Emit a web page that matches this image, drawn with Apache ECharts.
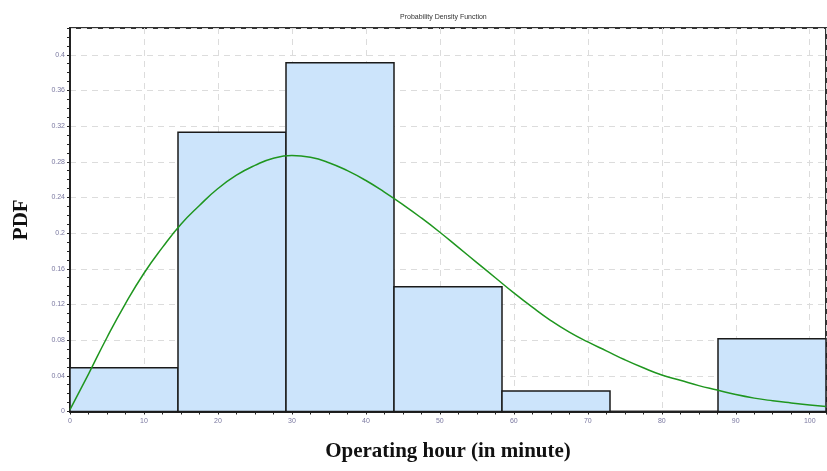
<!DOCTYPE html>
<html>
<head>
<meta charset="utf-8">
<script src="https://cdn.jsdelivr.net/npm/echarts@6/dist/echarts.min.js"></script>
<style>
  html, body { margin: 0; padding: 0; background: #fff; }
  #echarts { width: 827px; height: 471px; }
</style>
</head>
<body>
<div id="echarts"></div>
<script>
// histogram bins (operating minutes) and their heights
var binStart = [0, 14.6, 29.2, 43.8, 58.4, 73.0, 87.6];
var binEnd = [14.6, 29.2, 43.8, 58.4, 73.0, 87.6, 102.2];
var binHeight = [0.049, 0.313, 0.391, 0.140, 0.023, 0, 0.0815];

// fitted density curve
var curveX = [0, 2.5, 5, 7.5, 10, 12.5, 15, 17.5, 20, 22.5, 25, 27.5, 30, 32.5, 35, 37.5,
  40, 42.5, 45, 47.5, 50, 52.5, 55, 57.5, 60, 62.5, 65, 67.5, 70, 72.5, 75, 77.5,
  80, 82.5, 85, 87.5, 90, 92.5, 95, 97.5, 100, 102.2];
var curveY = [0.002, 0.042, 0.083, 0.121, 0.155, 0.184, 0.210, 0.231, 0.250, 0.265, 0.276, 0.284,
  0.287, 0.285, 0.279, 0.270, 0.259, 0.246, 0.232, 0.217, 0.201, 0.184, 0.167, 0.150,
  0.133, 0.117, 0.102, 0.089, 0.078, 0.068, 0.058, 0.049, 0.041, 0.035, 0.029, 0.024,
  0.019, 0.015, 0.012, 0.0095, 0.0072, 0.0055];

var myChart = echarts.init(document.getElementById('echarts'));

var bars = [];
for (var i = 0; i < binStart.length; i++) {
  if (binHeight[i] > 0) bars.push([binStart[i], binEnd[i], binHeight[i]]);
}
var line = [];
for (var j = 0; j < curveX.length; j++) {
  line.push([curveX[j], curveY[j]]);
}

var labelStyle = { fontSize: 7, color: '#7a78a0', fontFamily: 'Arial' };
var dashed = { show: true, lineStyle: { color: '#dcdcdc', type: [6, 5], width: 1 } };

var option = {
  backgroundColor: '#fff',
  animation: false,
  title: {
    text: 'Probability Density Function',
    left: 395,
    top: 9,
    textStyle: { fontSize: 7, fontWeight: 'normal', color: '#333', fontFamily: 'Arial' }
  },
  grid: {
    left: 70, right: 1, top: 28, bottom: 59.5,
    show: true, borderColor: '#333', borderWidth: 2
  },
  xAxis: {
    type: 'value',
    min: 0, max: 102.2, interval: 10,
    name: 'Operating hour (in minute)',
    nameLocation: 'middle',
    nameGap: 30,
    nameTextStyle: { fontSize: 21, fontWeight: 'bold', fontFamily: 'Liberation Serif', color: '#111' },
    axisLine: { lineStyle: { color: '#222', width: 2 } },
    axisTick: { show: true, length: 3, lineStyle: { color: '#222' } },
    minorTick: { show: true, splitNumber: 4, length: 3, lineStyle: { color: '#222' } },
    axisLabel: Object.assign({ margin: 6, showMaxLabel: false }, labelStyle),
    splitLine: dashed
  },
  yAxis: {
    type: 'value',
    min: 0, max: 0.43, interval: 0.04,
    name: 'PDF',
    nameLocation: 'middle',
    nameGap: 38,
    nameRotate: 90,
    nameTextStyle: { fontSize: 21, fontWeight: 'bold', fontFamily: 'Liberation Serif', color: '#111' },
    axisLine: { show: true, lineStyle: { color: '#222', width: 2 } },
    axisTick: { show: true, length: 3, lineStyle: { color: '#222' } },
    minorTick: { show: true, splitNumber: 4, length: 3, lineStyle: { color: '#222' } },
    axisLabel: Object.assign({ margin: 5, showMaxLabel: false }, labelStyle),
    splitLine: dashed
  },
  series: [{
    type: 'custom',
    data: bars,
    encode: { x: [0, 1], y: 2 },
    renderItem: function (params, api) {
      var p0 = api.coord([api.value(0), api.value(2)]);
      var p1 = api.coord([api.value(1), 0]);
      return {
        type: 'rect',
        shape: { x: p0[0], y: p0[1], width: p1[0] - p0[0], height: p1[1] - p0[1] },
        style: { fill: '#cce4fb', stroke: '#1a1a1a', lineWidth: 1.5 }
      };
    },
    z: 2
  }, {
    type: 'line',
    data: line,
    smooth: 0.5,
    showSymbol: false,
    lineStyle: { color: '#1f961f', width: 1.5 },
    z: 3
  }]
};

myChart.setOption(option);
</script>
</body>
</html>
